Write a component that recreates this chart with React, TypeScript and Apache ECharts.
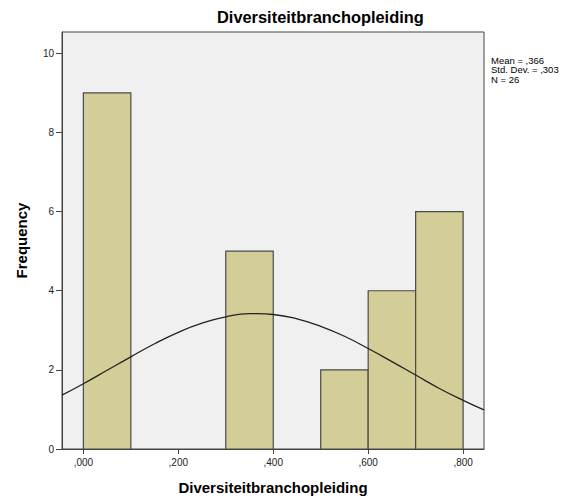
import React, { useEffect, useRef } from "react";
import * as echarts from "echarts";

const binStart = [0.0, 0.3, 0.5, 0.6, 0.7];
const binEnd = [0.1, 0.4, 0.6, 0.7, 0.8];
const counts = [9, 5, 2, 4, 6];

const xTickValues = [0, 0.2, 0.4, 0.6, 0.8];
const xTickLabels = [",000", ",200", ",400", ",600", ",800"];
const yTickValues = [0, 2, 4, 6, 8, 10];

// normal curve (x, frequency)
const curveX = [-0.045, 0, 0.05, 0.1, 0.15, 0.2, 0.25, 0.3, 0.35, 0.366, 0.4, 0.45, 0.5, 0.55, 0.6, 0.65, 0.7, 0.75, 0.8, 0.844];
const curveY = [1.36, 1.65, 1.99, 2.33, 2.66, 2.95, 3.18, 3.34, 3.42, 3.42, 3.4, 3.29, 3.1, 2.85, 2.54, 2.21, 1.87, 1.53, 1.23, 0.99];

const statsLines = ["Mean = ,366", "Std. Dev. = ,303", "N = 26"];
const title = "Diversiteitbranchopleiding";
const xName = "Diversiteitbranchopleiding";
const yName = "Frequency";

export default function App() {
  const ref = useRef<HTMLDivElement>(null);
  useEffect(() => {
    if (!ref.current) return;
    const chart = echarts.init(ref.current, null, { renderer: "svg" });
    const font = "'Liberation Sans', Arial, sans-serif";
    const barData = binStart.map((s, i) => [s, binEnd[i], counts[i]]);
    const curveData = curveX.map((x, i) => [x, curveY[i]]);
    chart.setOption({
      animation: false,
      backgroundColor: "#ffffff",
      textStyle: { fontFamily: font },
      grid: {
        left: 62,
        right: 93,
        top: 32,
        bottom: 50.5,
        show: true,
        backgroundColor: "#f0f0f0",
        borderColor: "#444444",
        borderWidth: 1,
      },
      xAxis: {
        type: "value",
        min: -0.045,
        max: 0.844,
        name: xName,
        nameLocation: "middle",
        nameGap: 31,
        nameTextStyle: { fontSize: 15, fontWeight: "bold", color: "#000", fontFamily: font },
        axisLine: { show: true, onZero: false, lineStyle: { color: "#444", width: 1 } },
        axisTick: { show: true, inside: false, length: 5, lineStyle: { color: "#444" }, customValues: xTickValues },
        axisLabel: {
          customValues: xTickValues,
          formatter: (v: number) => {
            const i = xTickValues.findIndex((t) => Math.abs(t - v) < 1e-9);
            return i >= 0 ? xTickLabels[i] : "";
          },
          fontSize: 10,
          color: "#222",
          margin: 8,
          fontFamily: font,
        },
        splitLine: { show: false },
      },
      yAxis: {
        type: "value",
        min: 0,
        max: 10.54,
        name: yName,
        nameLocation: "middle",
        nameGap: 33,
        nameRotate: 90,
        nameTextStyle: { fontSize: 15, fontWeight: "bold", color: "#000", fontFamily: font },
        axisLine: { show: true, onZero: false, lineStyle: { color: "#444", width: 1 } },
        axisTick: { show: true, inside: false, length: 6, lineStyle: { color: "#444" }, customValues: yTickValues },
        axisLabel: {
          customValues: yTickValues,
          fontSize: 10,
          color: "#222",
          margin: 8,
          fontFamily: font,
        },
        splitLine: { show: false },
      },
      series: [
        {
          type: "custom",
          data: barData,
          encode: { x: [0, 1], y: 2 },
          clip: true,
          renderItem: (params: any, api: any) => {
            const p0 = api.coord([api.value(0), 0]);
            const p1 = api.coord([api.value(1), api.value(2)]);
            return {
              type: "rect",
              shape: { x: p0[0], y: p1[1], width: p1[0] - p0[0], height: p0[1] - p1[1] },
              style: { fill: "#d3ce98", stroke: "#4a4a4a", lineWidth: 1.2 },
            };
          },
        },
        {
          type: "line",
          data: curveData,
          smooth: true,
          showSymbol: false,
          symbol: "none",
          clip: true,
          lineStyle: { color: "#222", width: 1.3 },
          z: 5,
        },
      ],
      graphic: [
        {
          type: "text",
          left: 217,
          top: 9,
          style: { text: title, font: `bold 16.4px ${font}`, fill: "#000" },
        },
        {
          type: "text",
          left: 491,
          top: 55,
          style: {
            text: statsLines.join("\n"),
            font: `9.5px ${font}`,
            lineHeight: 9.5,
            fill: "#000",
          },
        },
      ],
    });
    return () => chart.dispose();
  }, []);
  return (
    <div
      ref={ref}
      style={{ position: "fixed", left: 0, top: 0, width: 577, height: 500 }}
    />
  );
}
